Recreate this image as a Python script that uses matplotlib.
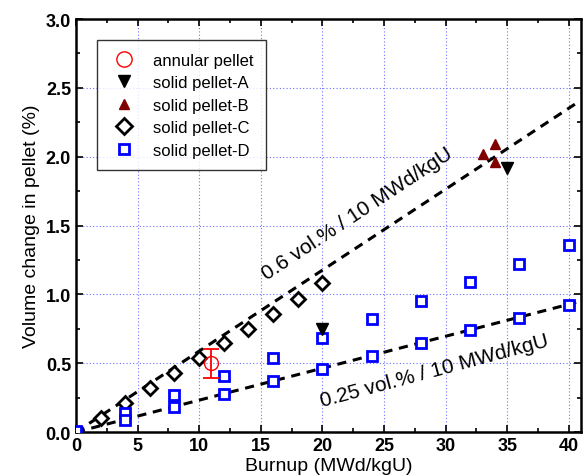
import numpy as np
import matplotlib.pyplot as plt
from matplotlib.ticker import MultipleLocator

plt.rcParams["font.family"] = ["Liberation Sans", "DejaVu Sans"]

# annular pellet
ann_x = [11]
ann_y = [0.50]
ann_err_lo = [0.11]
ann_err_hi = [0.10]

# solid pellet-A
a_x = [20, 35]
a_y = [0.75, 1.92]

# solid pellet-B
b_x = [33, 34, 34]
b_y = [2.02, 2.09, 1.96]

# solid pellet-C
c_x = [2, 4, 6, 8, 10, 12, 14, 16, 18, 20]
c_y = [0.10, 0.21, 0.32, 0.43, 0.54, 0.65, 0.75, 0.86, 0.97, 1.08]

# solid pellet-D
d_x = [0, 4, 4, 8, 8, 12, 12, 16, 16, 20, 20, 24, 24, 28, 28, 32, 32, 36, 36, 40, 40]
d_y = [0.01, 0.14, 0.09, 0.27, 0.18, 0.41, 0.28, 0.54, 0.37, 0.68, 0.46,
       0.82, 0.55, 0.95, 0.65, 1.09, 0.74, 1.22, 0.83, 1.36, 0.92]

# trend lines, drawn slopes (% per MWd/kgU)
fit_x = [0, 40.6]
slope_hi = 0.0588
slope_lo = 0.0232

fig = plt.figure(figsize=(5.84, 4.77), dpi=100)
ax = fig.add_axes([0.130, 0.092, 0.865, 0.866])

fx = np.array(fit_x)
ax.plot(fx, fx * slope_hi, "k--", lw=2.2, dashes=(3, 2.2), zorder=2)
ax.plot(fx, fx * slope_lo, "k--", lw=2.2, dashes=(3, 2.2), zorder=2)

ax.errorbar(ann_x, ann_y, yerr=[ann_err_lo, ann_err_hi], fmt="none",
            ecolor="red", capsize=6, elinewidth=1.3, capthick=1.3, zorder=4)
ax.plot(ann_x, ann_y, "o", mfc="none", mec="red", ms=10, ls="none",
        label="annular pellet", zorder=4)
ax.plot(a_x, a_y, "v", color="black", ms=8, ls="none", label="solid pellet-A", zorder=4)
ax.plot(b_x, b_y, "^", color="#800000", ms=7, ls="none", label="solid pellet-B", zorder=4)
ax.plot(c_x, c_y, "D", mfc="white", mec="black", mew=2, ms=7, ls="none",
        label="solid pellet-C", zorder=3)
ax.plot(d_x, d_y, "s", mfc="white", mec="blue", mew=2, ms=6.5, ls="none",
        label="solid pellet-D", zorder=3)

ax.set_xlim(0, 41)
ax.set_ylim(0, 3.0)
ax.xaxis.set_major_locator(MultipleLocator(5))
ax.xaxis.set_minor_locator(MultipleLocator(2.5))
ax.yaxis.set_major_locator(MultipleLocator(0.5))
ax.yaxis.set_minor_locator(MultipleLocator(0.25))
ax.yaxis.set_major_formatter(plt.FormatStrFormatter("%.1f"))
ax.tick_params(which="both", direction="in", top=True, right=True, width=1.2)
ax.tick_params(which="major", length=5, labelsize=13)
ax.tick_params(which="minor", length=3)
for lab in ax.get_xticklabels() + ax.get_yticklabels():
    lab.set_fontweight("bold")
for s in ax.spines.values():
    s.set_linewidth(1.8)

ax.grid(True, which="major", color="#7070ff", ls=(0, (1, 2)), lw=0.8)
ax.set_axisbelow(True)

ax.set_xlabel("Burnup (MWd/kgU)", fontsize=14, labelpad=2)
ax.set_ylabel("Volume change in pellet (%)", fontsize=14, labelpad=4)

ax.text(22.8, 1.59, "0.6 vol.% / 10 MWd/kgU", fontsize=15, rotation=33.5,
        ha="center", va="center")
ax.text(29.1, 0.45, "0.25 vol.% / 10 MWd/kgU", fontsize=15, rotation=15,
        ha="center", va="center")

leg = ax.legend(loc="upper left", bbox_to_anchor=(0.042, 0.949), fontsize=12,
                frameon=True, fancybox=False, edgecolor="black",
                handletextpad=0.9, labelspacing=0.45, borderpad=0.75,
                handlelength=1.7, numpoints=1, borderaxespad=0, markerscale=1.1)
leg.get_frame().set_linewidth(1.0)

fig.savefig("out.png", dpi=100)
